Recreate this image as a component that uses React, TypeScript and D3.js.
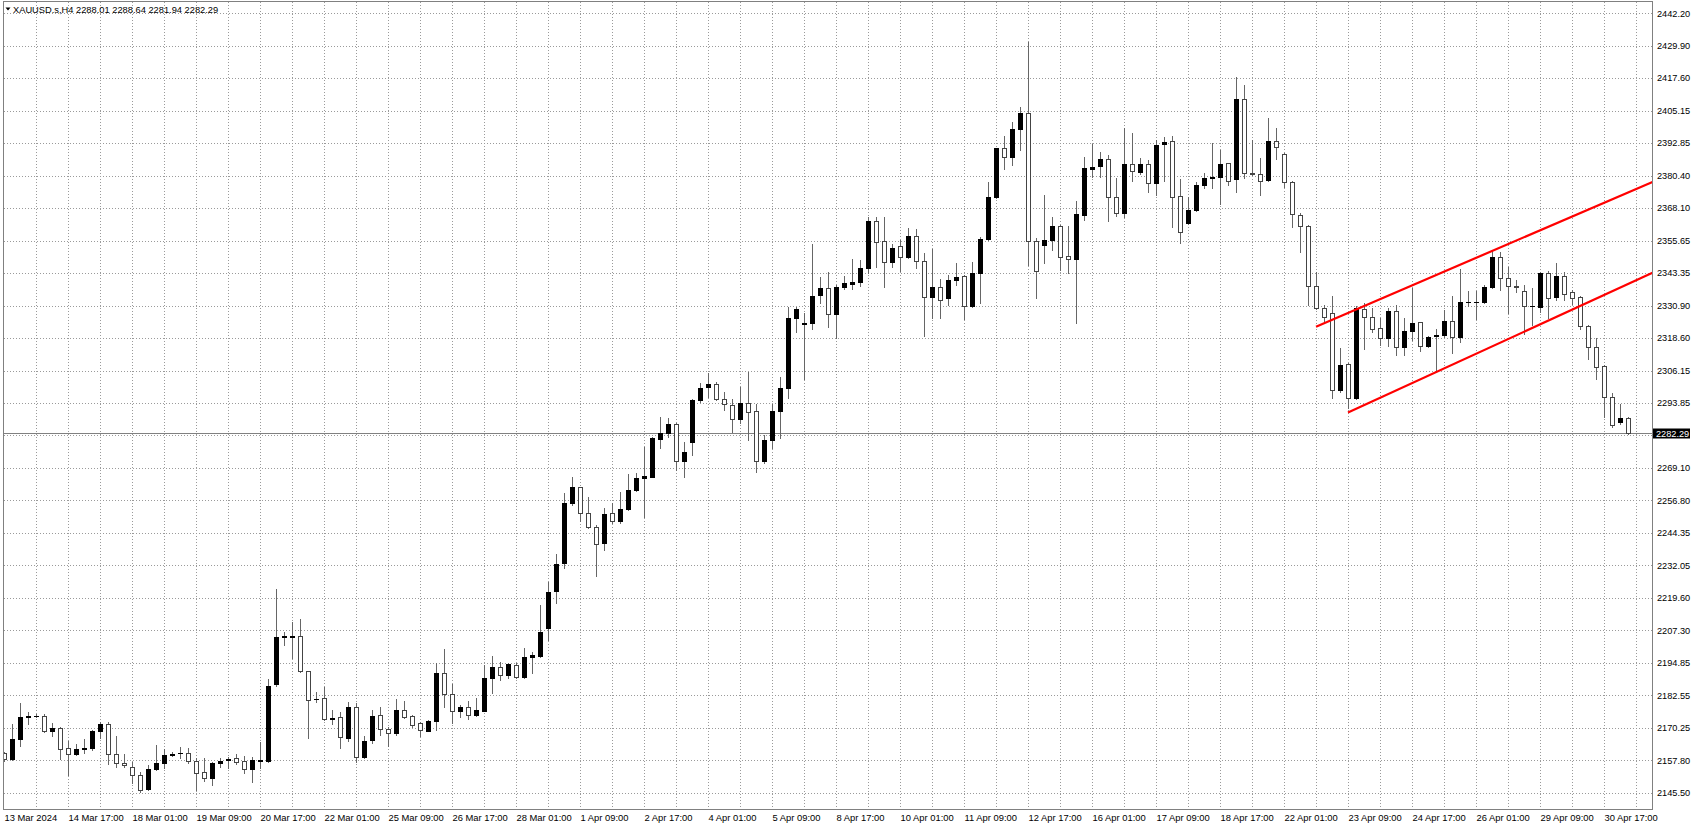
import React from "react";
import * as d3 from "d3";

const W = 1697;
const H = 825;

const symbolTitle = "XAUUSD.s,H4";
const lastOHLC = [2288.01, 2288.64, 2281.94, 2282.29];
const lastPrice = 2282.29;

const opens = [
  2160.5, 2158.2, 2166.0, 2174.5, 2174.6, 2174.7, 2168.8, 2170.0, 2162.4, 2160.1,
  2162.0, 2162.5, 2169.0, 2171.5, 2160.1, 2156.8, 2155.1, 2152.1, 2146.8, 2154.7,
  2156.7, 2159.9, 2160.5, 2160.5, 2157.6, 2153.4, 2151.1, 2156.8, 2157.8, 2158.6,
  2157.6, 2154.5, 2157.7, 2157.6, 2186.8, 2204.9, 2204.8, 2205.3, 2191.8, 2181.2,
  2181.4, 2173.4, 2174.2, 2166.5, 2178.0, 2159.0, 2165.6, 2175.1, 2169.6, 2168.1,
  2177.0, 2174.7, 2171.9, 2169.1, 2172.8, 2190.9, 2183.0, 2176.7, 2178.3, 2175.1,
  2176.7, 2189.3, 2193.2, 2190.3, 2194.1, 2189.4, 2197.3, 2197.7, 2208.3, 2222.1,
  2233.0, 2255.9, 2261.7, 2251.9, 2246.5, 2240.5, 2251.9, 2249.1, 2253.5, 2260.7,
  2265.4, 2265.8, 2280.2, 2282.6, 2285.9, 2271.9, 2278.9, 2295.0, 2300.1, 2301.1,
  2295.4, 2293.2, 2287.6, 2294.0, 2290.9, 2271.9, 2279.8, 2290.9, 2299.7, 2326.3,
  2324.0, 2324.4, 2335.0, 2337.5, 2327.6, 2337.9, 2339.3, 2340.0, 2345.1, 2363.3,
  2355.5, 2347.4, 2353.7, 2349.6, 2357.6, 2347.9, 2334.1, 2337.9, 2334.0, 2340.6,
  2342.2, 2330.9, 2343.2, 2356.3, 2372.2, 2390.8, 2387.6, 2398.3, 2404.4, 2355.5,
  2354.0, 2355.9, 2361.2, 2349.8, 2348.7, 2365.4, 2382.8, 2384.1, 2386.6, 2372.4,
  2366.3, 2384.7, 2381.7, 2384.7, 2377.7, 2392.3, 2393.6, 2372.6, 2362.3, 2367.3,
  2376.8, 2379.6, 2379.8, 2385.1, 2379.0, 2409.4, 2381.3, 2381.0, 2378.7, 2393.7,
  2388.5, 2378.1, 2365.4, 2361.4, 2338.4, 2330.2, 2328.0, 2298.8, 2308.6, 2295.6,
  2329.5, 2326.5, 2322.3, 2318.5, 2328.9, 2315.0, 2321.4, 2324.6, 2315.6, 2319.2,
  2319.6, 2325.1, 2319.1, 2332.3, 2332.3, 2332.2, 2337.9, 2349.3, 2341.3, 2338.5,
  2336.5, 2330.8, 2330.5, 2343.5, 2334.1, 2342.3, 2336.0, 2334.1, 2323.2, 2315.0,
  2307.9, 2296.0, 2286.6, 2288.01,
];
const highs = [
  2161.1, 2171.5, 2179.7, 2176.4, 2175.4, 2175.4, 2171.9, 2170.4, 2165.0, 2164.1,
  2165.8, 2169.3, 2172.6, 2172.6, 2166.9, 2160.3, 2157.3, 2153.5, 2156.1, 2163.7,
  2162.0, 2161.1, 2162.8, 2162.7, 2158.6, 2158.6, 2157.3, 2158.6, 2159.2, 2160.3,
  2159.5, 2158.9, 2164.9, 2188.7, 2222.9, 2206.5, 2210.6, 2211.6, 2191.9, 2183.7,
  2185.9, 2177.0, 2176.1, 2179.9, 2179.8, 2167.1, 2177.0, 2178.3, 2170.6, 2181.0,
  2180.4, 2175.1, 2172.5, 2173.2, 2195.0, 2200.1, 2186.8, 2178.9, 2180.4, 2181.7,
  2194.0, 2197.5, 2195.1, 2194.8, 2194.8, 2200.5, 2198.9, 2217.0, 2225.6, 2236.2,
  2259.7, 2265.8, 2262.0, 2258.2, 2247.5, 2254.0, 2255.9, 2259.9, 2266.8, 2267.1,
  2277.2, 2280.8, 2288.4, 2288.0, 2286.4, 2278.9, 2295.4, 2301.3, 2305.2, 2302.0,
  2298.2, 2295.2, 2300.1, 2305.5, 2293.5, 2281.7, 2293.5, 2303.6, 2330.3, 2330.5,
  2328.0, 2354.3, 2341.7, 2343.8, 2338.8, 2342.2, 2348.5, 2348.3, 2364.8, 2364.5,
  2364.5, 2354.4, 2355.9, 2360.3, 2360.0, 2351.1, 2352.5, 2340.9, 2342.6, 2347.0,
  2342.5, 2347.6, 2357.2, 2377.9, 2391.1, 2395.6, 2400.7, 2406.7, 2431.4, 2356.5,
  2373.0, 2364.8, 2361.5, 2361.4, 2370.8, 2387.6, 2392.4, 2389.5, 2388.3, 2379.4,
  2398.4, 2396.8, 2387.0, 2386.4, 2394.0, 2395.2, 2395.6, 2379.1, 2372.1, 2378.1,
  2381.3, 2392.9, 2390.2, 2385.3, 2417.8, 2414.9, 2394.0, 2387.0, 2402.2, 2398.4,
  2388.9, 2378.4, 2366.1, 2361.6, 2343.8, 2331.2, 2334.6, 2314.7, 2308.9, 2330.8,
  2331.8, 2329.9, 2326.1, 2329.9, 2331.2, 2326.1, 2337.5, 2324.8, 2319.4, 2322.0,
  2329.3, 2334.7, 2344.9, 2336.5, 2336.5, 2338.8, 2351.7, 2351.5, 2345.5, 2340.7,
  2338.8, 2337.5, 2343.8, 2344.2, 2347.0, 2343.8, 2336.9, 2334.6, 2323.6, 2318.5,
  2308.3, 2297.5, 2293.5, 2288.64,
];
const lows = [
  2157.7, 2158.0, 2163.4, 2171.7, 2174.3, 2168.5, 2167.2, 2158.5, 2152.4, 2159.9,
  2160.5, 2161.8, 2166.2, 2156.4, 2155.1, 2155.3, 2149.1, 2145.9, 2146.6, 2154.2,
  2154.8, 2159.6, 2158.6, 2156.9, 2146.6, 2150.1, 2148.5, 2155.4, 2154.8, 2156.4,
  2152.9, 2149.7, 2154.8, 2157.3, 2186.3, 2201.7, 2196.6, 2191.6, 2166.2, 2180.2,
  2173.2, 2171.7, 2162.4, 2165.2, 2157.3, 2158.8, 2164.3, 2167.5, 2163.4, 2167.5,
  2174.1, 2170.6, 2167.1, 2169.0, 2169.4, 2178.3, 2171.9, 2174.5, 2173.4, 2174.8,
  2176.6, 2183.6, 2188.4, 2189.0, 2189.0, 2189.0, 2190.9, 2197.0, 2203.6, 2217.8,
  2231.0, 2255.0, 2249.1, 2246.1, 2228.0, 2238.0, 2248.3, 2248.0, 2253.1, 2260.3,
  2250.6, 2265.6, 2276.6, 2281.0, 2268.3, 2265.6, 2274.1, 2294.1, 2296.3, 2295.0,
  2291.0, 2282.7, 2286.1, 2279.8, 2267.7, 2270.9, 2276.6, 2280.4, 2295.9, 2320.8,
  2303.0, 2321.9, 2331.8, 2322.9, 2318.5, 2337.1, 2337.1, 2338.5, 2343.2, 2345.8,
  2338.1, 2345.5, 2344.2, 2348.9, 2345.1, 2319.5, 2326.1, 2326.1, 2331.2, 2338.8,
  2325.8, 2330.5, 2332.0, 2355.9, 2371.8, 2382.8, 2384.5, 2390.2, 2346.4, 2333.9,
  2347.0, 2352.1, 2344.5, 2343.2, 2324.2, 2363.5, 2379.7, 2379.7, 2363.1, 2365.0,
  2364.8, 2378.5, 2381.0, 2374.3, 2373.0, 2378.5, 2361.0, 2354.9, 2361.9, 2366.9,
  2375.6, 2375.6, 2369.6, 2376.8, 2374.0, 2379.4, 2380.6, 2373.0, 2378.5, 2386.6,
  2376.2, 2361.0, 2351.5, 2331.2, 2329.5, 2325.1, 2295.6, 2298.2, 2291.8, 2295.4,
  2314.3, 2321.0, 2315.9, 2315.5, 2312.1, 2312.1, 2317.8, 2313.8, 2315.3, 2305.8,
  2319.1, 2312.7, 2317.2, 2330.8, 2325.7, 2331.8, 2337.5, 2336.9, 2328.2, 2336.2,
  2320.1, 2323.5, 2328.6, 2326.1, 2333.1, 2333.1, 2331.5, 2321.9, 2310.6, 2302.9,
  2288.6, 2284.7, 2285.9, 2281.94,
];
const closes = [
  2158.2, 2166.0, 2174.3, 2174.7, 2174.7, 2168.8, 2170.0, 2162.2, 2160.1, 2162.0,
  2162.5, 2169.0, 2171.7, 2160.3, 2156.7, 2156.1, 2152.3, 2146.7, 2154.7, 2156.7,
  2159.9, 2160.4, 2160.6, 2157.5, 2152.9, 2151.0, 2156.8, 2157.6, 2158.5, 2157.3,
  2154.4, 2158.0, 2157.8, 2186.0, 2204.8, 2205.0, 2205.3, 2191.8, 2180.8, 2181.0,
  2173.4, 2174.0, 2166.6, 2178.0, 2159.0, 2165.3, 2174.8, 2169.6, 2168.1, 2177.0,
  2174.4, 2171.3, 2169.4, 2172.8, 2190.9, 2183.0, 2176.5, 2178.0, 2175.1, 2177.0,
  2189.3, 2193.2, 2190.3, 2194.5, 2189.4, 2197.0, 2197.9, 2206.6, 2221.8, 2232.6,
  2255.9, 2261.7, 2251.9, 2246.5, 2240.0, 2251.6, 2249.1, 2253.5, 2260.7, 2265.4,
  2266.1, 2280.4, 2282.6, 2285.9, 2271.9, 2275.1, 2295.0, 2299.4, 2301.1, 2295.4,
  2293.4, 2287.6, 2294.0, 2290.3, 2271.9, 2279.8, 2290.9, 2299.7, 2326.3, 2329.8,
  2324.3, 2334.6, 2337.5, 2327.6, 2338.1, 2339.4, 2340.0, 2345.1, 2363.3, 2355.3,
  2347.4, 2352.7, 2349.6, 2357.6, 2347.9, 2334.1, 2337.9, 2333.1, 2340.6, 2341.9,
  2330.9, 2343.2, 2356.3, 2372.4, 2390.8, 2387.6, 2398.3, 2404.4, 2355.5, 2344.2,
  2355.9, 2361.2, 2349.6, 2348.8, 2365.8, 2383.4, 2383.8, 2386.6, 2372.4, 2366.3,
  2384.7, 2382.3, 2384.7, 2377.7, 2392.1, 2393.3, 2372.1, 2359.1, 2367.3, 2376.8,
  2379.6, 2379.9, 2384.8, 2378.5, 2409.4, 2381.5, 2381.2, 2378.5, 2393.7, 2391.4,
  2378.1, 2365.7, 2361.4, 2338.4, 2330.2, 2326.5, 2298.8, 2308.3, 2295.6, 2329.9,
  2326.5, 2321.9, 2318.5, 2328.9, 2315.0, 2321.4, 2324.4, 2315.7, 2319.1, 2319.7,
  2325.1, 2319.1, 2332.2, 2332.4, 2332.4, 2337.9, 2349.3, 2341.6, 2338.5, 2337.9,
  2330.9, 2330.6, 2343.5, 2333.9, 2342.3, 2335.2, 2333.9, 2323.2, 2315.0, 2307.7,
  2296.0, 2285.5, 2288.0, 2282.29,
];

const timeLabels = [
  "13 Mar 2024", "14 Mar 17:00", "18 Mar 01:00", "19 Mar 09:00", "20 Mar 17:00",
  "22 Mar 01:00", "25 Mar 09:00", "26 Mar 17:00", "28 Mar 01:00", "1 Apr 09:00",
  "2 Apr 17:00", "4 Apr 01:00", "5 Apr 09:00", "8 Apr 17:00", "10 Apr 01:00",
  "11 Apr 09:00", "12 Apr 17:00", "16 Apr 01:00", "17 Apr 09:00", "18 Apr 17:00",
  "22 Apr 01:00", "23 Apr 09:00", "24 Apr 17:00", "26 Apr 01:00", "29 Apr 09:00",
  "30 Apr 17:00",
];
const barsPerLabel = 8;
const barsPerGrid = 4;

const priceTicks = [
  2442.2, 2429.9, 2417.6, 2405.15, 2392.85, 2380.4, 2368.1, 2355.65, 2343.35,
  2330.9, 2318.6, 2306.15, 2293.85, 2281.55, 2269.1, 2256.8, 2244.35, 2232.05,
  2219.6, 2207.3, 2194.85, 2182.55, 2170.25, 2157.8, 2145.5,
];

// trend lines: [barIndex, price] anchors, extended as rays to the right
const upperChannel = [[164, 2322.9], [192.1, 2359.7]];
const lowerChannel = [[168, 2290.2], [206.2, 2343.6]];

const PLOT_L = 3.5, PLOT_T = 1.5, PLOT_R = 1652.5, PLOT_B = 809.5;

const yScale = d3.scaleLinear().domain([2145.5, 2442.2]).range([792.7, 13.3]);
const xScale = d3.scaleLinear().domain([0, 1]).range([4, 12]);

const FONT = "'Liberation Sans', Arial, sans-serif";

function fmt(v: number) {
  return d3.format(".2f")(v);
}

export default function App() {
  const n = opens.length;
  const bars = d3.range(n).map((i) => ({ i, o: opens[i], h: highs[i], l: lows[i], c: closes[i] }));

  const vGrid: number[] = [];
  for (let k = 1; ; k++) {
    const x = Math.round(xScale(k * barsPerGrid)) + 0.5;
    if (x >= PLOT_R) break;
    vGrid.push(x);
  }

  const yLast = Math.round(yScale(lastPrice)) + 0.5;

  const ray = (pts: number[][]) => {
    const x1 = xScale(pts[0][0]);
    const y1 = yScale(pts[0][1]);
    const x2 = xScale(pts[1][0]);
    const y2 = yScale(pts[1][1]);
    const slope = (y2 - y1) / (x2 - x1);
    const xe = PLOT_R;
    const ye = y1 + slope * (xe - x1);
    return d3.line()([[x1, y1], [xe, ye]]) || "";
  };

  return (
    <svg
      width={W}
      height={H}
      style={{ position: "absolute", left: 0, top: 0, background: "#fff" }}
      fontFamily={FONT}
    >
      <defs>
        <clipPath id="plot">
          <rect x={4} y={2} width={PLOT_R - 4} height={PLOT_B - 2} />
        </clipPath>
      </defs>
      <rect x={0} y={0} width={W} height={H} fill="#fff" />

      {/* grid */}
      <g stroke="#9a9a9a" strokeWidth={1} strokeDasharray="1 2" shapeRendering="crispEdges">
        {vGrid.map((x, k) => (
          <line key={"v" + k} x1={x} x2={x} y1={PLOT_T} y2={PLOT_B} />
        ))}
        {priceTicks.map((p, k) => {
          const y = Math.round(yScale(p)) + 0.5;
          return <line key={"h" + k} x1={PLOT_L} x2={PLOT_R} y1={y} y2={y} />;
        })}
      </g>

      {/* current price line */}
      <line x1={PLOT_L} x2={PLOT_R} y1={yLast} y2={yLast} stroke="#808080" strokeWidth={1} shapeRendering="crispEdges" />

      {/* candles */}
      <g clipPath="url(#plot)" shapeRendering="crispEdges">
        {bars.map((b) => {
          const xc = Math.round(xScale(b.i));
          const yH = Math.round(yScale(b.h));
          const yL = Math.round(yScale(b.l));
          const yO = Math.round(yScale(b.o));
          const yC = Math.round(yScale(b.c));
          const top = Math.min(yO, yC);
          const bot = Math.max(yO, yC);
          const bull = b.c >= b.o;
          return (
            <g key={b.i}>
              <line x1={xc + 0.5} x2={xc + 0.5} y1={yH} y2={yL + 1} stroke="#666" strokeWidth={1} />
              {bot - top < 1 ? (
                <line x1={xc - 2} x2={xc + 3} y1={top + 0.5} y2={top + 0.5} stroke="#000" strokeWidth={1} />
              ) : bull ? (
                <rect x={xc - 2} y={top} width={5} height={bot - top + 1} fill="#000" />
              ) : (
                <rect x={xc - 1.5} y={top + 0.5} width={4} height={bot - top} fill="#fff" stroke="#444" strokeWidth={1} />
              )}
            </g>
          );
        })}
      </g>

      {/* channel lines */}
      <g clipPath="url(#plot)" fill="none" stroke="#ff0000" strokeWidth={2.2}>
        <path d={ray(upperChannel)} />
        <path d={ray(lowerChannel)} />
      </g>

      {/* frame */}
      <rect
        x={PLOT_L}
        y={PLOT_T}
        width={PLOT_R - PLOT_L}
        height={PLOT_B - PLOT_T}
        fill="none"
        stroke="#808080"
        strokeWidth={1}
        shapeRendering="crispEdges"
      />

      {/* price axis labels */}
      <g fontSize={9.2} fill="#000">
        {priceTicks.map((p, k) => {
          const y = yScale(p);
          if (Math.abs(y - yScale(lastPrice)) < 8) return null;
          return (
            <text key={"pl" + k} x={1657} y={y + 3.3}>
              {fmt(p)}
            </text>
          );
        })}
      </g>
      <rect x={1653} y={yLast - 5} width={37} height={10} fill="#000" />
      <text x={1656} y={yLast + 3.3} fontSize={9.2} fill="#fff">
        {fmt(lastPrice)}
      </text>

      {/* time axis labels */}
      <g fontSize={9.4} fill="#000">
        {timeLabels.map((t, k) => (
          <text key={"tl" + k} x={xScale(k * barsPerLabel) + 0.5} y={821}>
            {t}
          </text>
        ))}
      </g>

      {/* header */}
      <path d="M5.5,7.5 L10.5,7.5 L8,10.5 Z" fill="#000" />
      <text x={13} y={12.5} fontSize={9.3} fill="#000">
        {symbolTitle + "  " + lastOHLC.map(fmt).join(" ")}
      </text>
    </svg>
  );
}
